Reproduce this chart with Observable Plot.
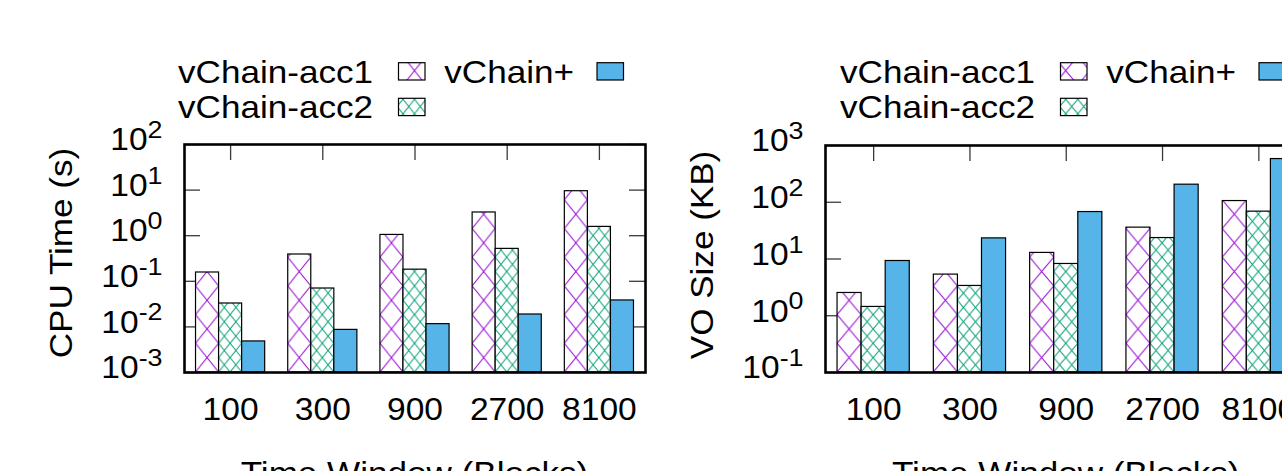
<!DOCTYPE html>
<html><head><meta charset="utf-8">
<script src="https://cdn.jsdelivr.net/npm/d3@7"></script>
<script src="https://cdn.jsdelivr.net/npm/@observablehq/plot@0.6"></script>
<style>
html,body{margin:0;padding:0;background:#fff;overflow:hidden;width:1282px;height:471px}
#wrap{position:relative;width:1282px;height:471px;overflow:hidden;background:#fff}
#wrap svg{position:absolute;top:0;overflow:visible}
</style></head><body><div id="wrap"></div>
<script>
// ---- data ----
const groups = ["100", "300", "900", "2700", "8100"];
const series = ["vChain-acc1", "vChain-acc2", "vChain+"];
const cpuAcc1 = [0.156, 0.387, 1.04, 3.23, 9.46];
const cpuAcc2 = [0.0326, 0.0695, 0.18, 0.514, 1.56];
const cpuPlus = [0.0048, 0.0086, 0.0115, 0.0187, 0.038];
const voAcc1 = [2.52, 5.31, 12.8, 35.7, 105];
const voAcc2 = [1.43, 3.35, 8.17, 23.4, 68.3];
const voPlus = [9.22, 23.1, 67.2, 204, 577];
const cpuTicks = [1e-3, 1e-2, 1e-1, 1, 10, 100];
const voTicks = [0.1, 1, 10, 100, 1000];
const xTitle = "Time Window (Blocks)";
const cpuTitle = "CPU Time (s)";
const voTitle = "VO Size (KB)";

const FONT = "'Liberation Sans', Arial, Helvetica, sans-serif";
const FS = 30.5;
const PURPLE = "#9400D3", GREEN = "#009E73", BLUE = "#56B4E9", TICK = "#3a3a3a";

function stretch(sel, f) {
  sel.each(function () {
    const len = this.getComputedTextLength();
    this.setAttribute("textLength", (len * f).toFixed(2));
    this.setAttribute("lengthAdjust", "spacingAndGlyphs");
  });
}

function panel({id, left, width, ml, mr, mt, mb, yDomain, yTicks, vals, yTitle, yTitleX, yTitleY}) {
  const height = 471;
  const H = height - mt - mb, W = width - ml - mr;
  const gIdx = groups.map((_, i) => i);
  const rows = [];
  vals.forEach((arr, si) => arr.forEach((v, gi) => rows.push({g: gi, s: si, v})));
  const fills = [`url(#${id}-acc1)`, `url(#${id}-acc2)`, BLUE];
  const yMin = yDomain[0];
  const chart = Plot.plot({
    width, height, marginLeft: ml, marginRight: mr, marginTop: mt, marginBottom: mb,
    style: {fontFamily: FONT, fontSize: FS + "px", color: "black", background: "transparent"},
    x: {type: "linear", domain: [-0.5, groups.length - 0.5]},
    y: {type: "log", domain: yDomain},
    marks: [
      Plot.tickX(gIdx, {x: d => d, insetBottom: H - 16, stroke: TICK, strokeWidth: 1.3}),
      Plot.tickX(gIdx, {x: d => d, insetTop: H - 16, stroke: TICK, strokeWidth: 1.3}),
      Plot.tickY(yTicks, {y: d => d, insetRight: W - 16, stroke: TICK, strokeWidth: 1.3}),
      Plot.tickY(yTicks, {y: d => d, insetLeft: W - 16, stroke: TICK, strokeWidth: 1.3}),
      ...series.map((name, si) => Plot.rect(rows.filter(r => r.s === si), {
        x1: r => r.g - 0.375 + r.s * 0.25,
        x2: r => r.g - 0.125 + r.s * 0.25,
        y1: () => yMin, y2: "v",
        fill: fills[si], stroke: "black", strokeWidth: 1.2
      })),
      Plot.frame({stroke: "black", strokeWidth: 2.6}),
      Plot.axisX({ticks: gIdx, tickSize: 0, tickPadding: 26, tickFormat: i => groups[i], label: null, fontSize: FS}),
      Plot.axisY({ticks: yTicks, tickSize: 0, tickPadding: 22, tickFormat: d => String(Math.round(Math.log10(d))), label: null, fontSize: FS, dy: -4})
    ]
  });
  chart.style.left = left + "px";
  document.getElementById("wrap").appendChild(chart);
  const svg = d3.select(chart);
  const x = chart.scale("x"), y = chart.scale("y");
  const bw = x.apply(0.25) - x.apply(0);
  const x0 = x.apply(-0.375);
  const yb = y.apply(yMin);
  const defs = svg.insert("defs", ":first-child");
  function pat(pid, color, w, h, px, py) {
    const p = defs.append("pattern").attr("id", pid).attr("patternUnits", "userSpaceOnUse")
      .attr("x", px).attr("y", py).attr("width", w).attr("height", h);
    p.append("rect").attr("width", w).attr("height", h).attr("fill", "white");
    p.append("path").attr("d", `M0,0L${w},${h}M${w},0L0,${h}`).attr("stroke", color)
      .attr("stroke-width", 1).attr("fill", "none");
  }
  pat(`${id}-acc1`, PURPLE, bw, 28.7, x0, yb);
  pat(`${id}-acc2`, GREEN, bw / 2, 14.35, x0, yb);

  // y tick labels as 10^n
  const ylab = svg.selectAll('g[aria-label^="y-axis tick label"] text');
  ylab.each(function () {
    const e = this.textContent;
    const t = d3.select(this);
    t.text(null);
    t.append("tspan").text("10");
    t.append("tspan").attr("dy", "-0.5em").attr("font-size", "0.8em").text(e);
  });

  // axis titles
  const frameCx = (x.apply(-0.5) + x.apply(groups.length - 0.5)) / 2;
  const tg = svg.append("g").attr("font-family", FONT).attr("font-size", FS).attr("fill", "black");
  tg.append("text").attr("class", "ttl").attr("x", frameCx).attr("y", 484).attr("text-anchor", "middle").text(xTitle);
  tg.append("text").attr("class", "ttl").attr("text-anchor", "middle")
    .attr("transform", `translate(${yTitleX},${yTitleY}) rotate(-90)`).text(yTitle);

  // legend
  const lg = svg.append("g").attr("font-family", FONT).attr("font-size", FS).attr("fill", "black");
  const items = [
    {s: 0, col: 0, row: 0}, {s: 1, col: 0, row: 1}, {s: 2, col: 1, row: 0}
  ];
  const textEnd = [373, 574], swX = [398.5, 597], base = [83, 118], swY = [62.7, 98.3];
  items.forEach(it => {
    lg.append("text").attr("class", "ttl").attr("x", textEnd[it.col]).attr("y", base[it.row])
      .attr("text-anchor", "end").text(series[it.s]);
    lg.append("rect").attr("x", swX[it.col]).attr("y", swY[it.row]).attr("width", 26.5).attr("height", 17.3)
      .attr("fill", fills[it.s]).attr("stroke", "black").attr("stroke-width", 1.2);
  });

  stretch(svg.selectAll("text.ttl"), 1.15);
  stretch(svg.selectAll('g[aria-label^="x-axis tick label"] text'), 1.1);
  stretch(ylab, 1.1);
}

panel({id: "cpu", left: 0, width: 660, ml: 184, mr: 15, mt: 144, mb: 99,
  yDomain: [1e-3, 1e2], yTicks: cpuTicks, vals: [cpuAcc1, cpuAcc2, cpuPlus],
  yTitle: cpuTitle, yTitleX: 72, yTitleY: 253});
panel({id: "vo", left: 662, width: 680, ml: 163, mr: 35.5, mt: 145, mb: 99,
  yDomain: [0.1, 1000], yTicks: voTicks, vals: [voAcc1, voAcc2, voPlus],
  yTitle: voTitle, yTitleX: 51, yTitleY: 255});
</script>
</body></html>
